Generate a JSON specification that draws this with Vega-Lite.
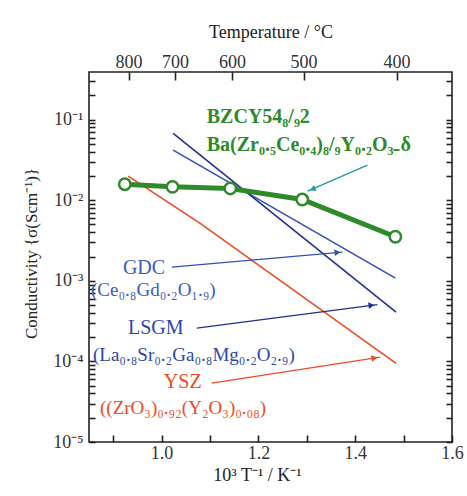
{
  "$schema": "https://vega.github.io/schema/vega-lite/v6.json",
  "width": 363,
  "height": 370,
  "autosize": "none",
  "padding": {"left": 89, "top": 72, "right": 15, "bottom": 54},
  "background": "white",
  "config": {
    "view": {"stroke": "#222", "strokeWidth": 1.6},
    "font": "Liberation Serif",
    "axis": {
      "grid": false,
      "domain": false,
      "labelFont": "Liberation Serif",
      "labelFontSize": 18,
      "labelColor": "#333",
      "titleFont": "Liberation Serif",
      "titleFontWeight": "normal",
      "titleFontSize": 18,
      "titleColor": "#222"
    }
  },
  "datasets": {
    "lines": [
      {"material": "GDC", "x": 1.0238, "y": 0.0419},
      {"material": "GDC", "x": 1.483, "y": 0.00108},
      {"material": "LSGM", "x": 1.0238, "y": 0.0674},
      {"material": "LSGM", "x": 1.4844, "y": 0.00041},
      {"material": "YSZ", "x": 0.931, "y": 0.0199},
      {"material": "YSZ", "x": 1.0789, "y": 0.0052},
      {"material": "YSZ", "x": 1.2438, "y": 0.00102},
      {"material": "YSZ", "x": 1.4844, "y": 0.0000944}
    ],
    "bzcy": [
      {"material": "BZCY", "x": 0.924, "y": 0.0158},
      {"material": "BZCY", "x": 1.0225, "y": 0.01466},
      {"material": "BZCY", "x": 1.142, "y": 0.014},
      {"material": "BZCY", "x": 1.2906, "y": 0.0102},
      {"material": "BZCY", "x": 1.483, "y": 0.00352}
    ],
    "arrows": [
      {"material": "GDC", "x": 1.0211, "y": 0.001479},
      {"material": "GDC", "x": 1.3737, "y": 0.00227},
      {"material": "LSGM", "x": 1.0727, "y": 0.000259},
      {"material": "LSGM", "x": 1.4459, "y": 0.000507},
      {"material": "YSZ", "x": 1.1036, "y": 0.0000538},
      {"material": "YSZ", "x": 1.452, "y": 0.000113},
      {"material": "BZCY", "x": 1.4253, "y": 0.02726},
      {"material": "BZCY", "x": 1.3016, "y": 0.01297}
    ],
    "heads": [
      {"material": "GDC", "x": 1.3634, "y": 0.00225},
      {"material": "LSGM", "x": 1.4335, "y": 0.000497},
      {"material": "YSZ", "x": 1.4397, "y": 0.00011},
      {"material": "BZCY", "x": 1.3119, "y": 0.01374}
    ],
    "labels": [
      {"material": "BZCY", "kind": "bzcy", "x": 1.0933, "y": 0.1074, "text": "BZCY54₈/₉2"},
      {"material": "BZCY", "kind": "bzcy", "x": 1.0933, "y": 0.0483, "text": "Ba(Zr₀.₅Ce₀.₄)₈/₉Y₀.₂O₃₋δ"},
      {"material": "GDC", "kind": "name", "x": 0.92, "y": 0.00144, "text": "GDC"},
      {"material": "GDC", "kind": "formula", "x": 0.8541, "y": 0.000767, "text": "(Ce₀.₈Gd₀.₂O₁.₉)"},
      {"material": "LSGM", "kind": "name", "x": 0.9304, "y": 0.000259, "text": "LSGM"},
      {"material": "LSGM", "kind": "formula", "x": 0.8582, "y": 0.00012, "text": "(La₀.₈Sr₀.₂Ga₀.₈Mg₀.₂O₂.₉)"},
      {"material": "YSZ", "kind": "name", "x": 1.0046, "y": 0.0000553, "text": "YSZ"},
      {"material": "YSZ", "kind": "formula", "x": 0.8727, "y": 0.0000264, "text": "((ZrO₃)₀.₉₂(Y₂O₃)₀.₀₈)"}
    ]
  },
  "resolve": {"axis": {"x": "independent", "y": "independent"}},
  "layer": [
    {
      "data": {"name": "lines"},
      "mark": {"type": "line", "strokeWidth": 1.6},
      "encoding": {
        "x": {
          "field": "x", "type": "quantitative",
          "scale": {"domain": [0.85, 1.6], "nice": false, "zero": false},
          "axis": {
            "orient": "bottom",
            "values": [0.9, 1.0, 1.1, 1.2, 1.3, 1.4, 1.5, 1.6],
            "labelExpr": "(round(datum.value*10) % 2 == 0) ? format(datum.value, '.1f') : ''",
            "labelOverlap": false,
            "labelFlush": false,
            "offset": -7,
            "tickSize": 7,
            "tickColor": "#222",
            "tickWidth": 1.6,
            "labelPadding": 2,
            "title": "10³ T⁻¹ / K⁻¹",
            "titlePadding": 4,
            "titleX": 168
          }
        },
        "y": {
          "field": "y", "type": "quantitative",
          "scale": {"type": "log", "domain": [0.00001, 0.39], "nice": false},
          "axis": {
            "orient": "left",
            "values": [0.00001, 0.00002, 0.00003, 0.00004, 0.00005, 0.00006, 0.00007, 0.00008, 0.00009,
                       0.0001, 0.0002, 0.0003, 0.0004, 0.0005, 0.0006, 0.0007, 0.0008, 0.0009,
                       0.001, 0.002, 0.003, 0.004, 0.005, 0.006, 0.007, 0.008, 0.009,
                       0.01, 0.02, 0.03, 0.04, 0.05, 0.06, 0.07, 0.08, 0.09, 0.1, 0.2, 0.3],
            "labelExpr": "abs(log(datum.value)/LN10 - round(log(datum.value)/LN10)) > 0.01 ? '' : datum.value < 2e-5 ? '10⁻⁵' : datum.value < 2e-4 ? '10⁻⁴' : datum.value < 2e-3 ? '10⁻³' : datum.value < 2e-2 ? '10⁻²' : '10⁻¹'",
            "labelOverlap": false,
            "offset": -6,
            "tickSize": 6,
            "tickColor": "#222",
            "tickWidth": 1.6,
            "labelPadding": 6,
            "title": "Conductivity {σ(Scm⁻¹)}",
            "titleFontSize": 17,
            "titleX": -55,
            "titleY": 181
          }
        },
        "stroke": {
          "field": "material", "type": "nominal",
          "scale": {"domain": ["BZCY", "GDC", "LSGM", "YSZ"], "range": ["#2f8a2a", "#3450b5", "#22318f", "#f04a22"]},
          "legend": null
        }
      }
    },
    {
      "data": {"name": "bzcy"},
      "mark": {"type": "line", "strokeWidth": 5, "color": "#2f8a2a"},
      "encoding": {
        "x": {
          "field": "x", "type": "quantitative",
          "axis": {
            "orient": "top",
            "values": [0.93183, 1.02756, 1.14528, 1.29341, 1.48555],
            "labelExpr": "format(1000/datum.value - 273.15, '.0f')",
            "labelOverlap": false,
            "labelFlush": false,
            "offset": -8,
            "tickSize": 8,
            "tickColor": "#222",
            "tickWidth": 1.6,
            "labelPadding": 1,
            "title": "Temperature / °C",
            "titlePadding": 12
          }
        },
        "y": {
          "field": "y", "type": "quantitative",
          "axis": {
            "orient": "right",
            "values": [0.00001, 0.00002, 0.00003, 0.00004, 0.00005, 0.00006, 0.00007, 0.00008, 0.00009,
                       0.0001, 0.0002, 0.0003, 0.0004, 0.0005, 0.0006, 0.0007, 0.0008, 0.0009,
                       0.001, 0.002, 0.003, 0.004, 0.005, 0.006, 0.007, 0.008, 0.009,
                       0.01, 0.02, 0.03, 0.04, 0.05, 0.06, 0.07, 0.08, 0.09, 0.1, 0.2, 0.3],
            "labelExpr": "''",
            "labelOverlap": false,
            "offset": -6,
            "tickSize": 6,
            "tickColor": "#222",
            "tickWidth": 1.6,
            "title": null
          }
        }
      }
    },
    {
      "data": {"name": "bzcy"},
      "mark": {"type": "point", "shape": "circle", "filled": true, "fill": "white", "stroke": "#2f8a2a", "strokeWidth": 2.5, "size": 130, "opacity": 1},
      "encoding": {
        "x": {"field": "x", "type": "quantitative", "axis": null},
        "y": {"field": "y", "type": "quantitative", "axis": null}
      }
    },
    {
      "data": {"name": "arrows"},
      "mark": {"type": "line", "strokeWidth": 1.3},
      "transform": [{"filter": "datum.material != 'BZCY'"}],
      "encoding": {
        "x": {"field": "x", "type": "quantitative", "axis": null},
        "y": {"field": "y", "type": "quantitative", "axis": null},
        "stroke": {"field": "material", "type": "nominal", "legend": null},
        "detail": {"field": "material"}
      }
    },
    {
      "data": {"name": "arrows"},
      "mark": {"type": "line", "strokeWidth": 1.3, "color": "#1f9a9a"},
      "transform": [{"filter": "datum.material == 'BZCY'"}],
      "encoding": {
        "x": {"field": "x", "type": "quantitative", "axis": null},
        "y": {"field": "y", "type": "quantitative", "axis": null}
      }
    },
    {
      "data": {"name": "heads"},
      "transform": [{"filter": "datum.material == 'GDC'"}],
      "mark": {"type": "point", "shape": "triangle-right", "filled": true, "opacity": 1, "size": 45, "angle": -5, "color": "#3450b5"},
      "encoding": {
        "x": {"field": "x", "type": "quantitative", "axis": null},
        "y": {"field": "y", "type": "quantitative", "axis": null}
      }
    },
    {
      "data": {"name": "heads"},
      "transform": [{"filter": "datum.material == 'LSGM'"}],
      "mark": {"type": "point", "shape": "triangle-right", "filled": true, "opacity": 1, "size": 45, "angle": -7, "color": "#22318f"},
      "encoding": {
        "x": {"field": "x", "type": "quantitative", "axis": null},
        "y": {"field": "y", "type": "quantitative", "axis": null}
      }
    },
    {
      "data": {"name": "heads"},
      "transform": [{"filter": "datum.material == 'YSZ'"}],
      "mark": {"type": "point", "shape": "triangle-right", "filled": true, "opacity": 1, "size": 45, "angle": -9, "color": "#f04a22"},
      "encoding": {
        "x": {"field": "x", "type": "quantitative", "axis": null},
        "y": {"field": "y", "type": "quantitative", "axis": null}
      }
    },
    {
      "data": {"name": "heads"},
      "transform": [{"filter": "datum.material == 'BZCY'"}],
      "mark": {"type": "point", "shape": "triangle-right", "filled": true, "opacity": 1, "size": 45, "angle": 157, "color": "#1f9a9a"},
      "encoding": {
        "x": {"field": "x", "type": "quantitative", "axis": null},
        "y": {"field": "y", "type": "quantitative", "axis": null}
      }
    },
    {
      "data": {"name": "labels"},
      "transform": [{"filter": "datum.kind == 'bzcy'"}],
      "mark": {"type": "text", "align": "left", "baseline": "middle", "font": "Liberation Serif", "fontSize": 20, "fontWeight": "bold", "color": "#2f8a2a"},
      "encoding": {
        "x": {"field": "x", "type": "quantitative", "axis": null},
        "y": {"field": "y", "type": "quantitative", "axis": null},
        "text": {"field": "text"}
      }
    },
    {
      "data": {"name": "labels"},
      "transform": [{"filter": "datum.kind == 'name'"}],
      "mark": {"type": "text", "align": "left", "baseline": "middle", "font": "Liberation Serif", "fontSize": 20},
      "encoding": {
        "x": {"field": "x", "type": "quantitative", "axis": null},
        "y": {"field": "y", "type": "quantitative", "axis": null},
        "text": {"field": "text"},
        "fill": {
          "field": "material", "type": "nominal",
          "scale": {"domain": ["BZCY", "GDC", "LSGM", "YSZ"], "range": ["#2f8a2a", "#3a5cbf", "#2e48aa", "#f04a22"]},
          "legend": null
        }
      }
    },
    {
      "data": {"name": "labels"},
      "transform": [{"filter": "datum.kind == 'formula'"}],
      "mark": {"type": "text", "align": "left", "baseline": "middle", "font": "Liberation Serif", "fontSize": 19},
      "encoding": {
        "x": {"field": "x", "type": "quantitative", "axis": null},
        "y": {"field": "y", "type": "quantitative", "axis": null},
        "text": {"field": "text"},
        "fill": {"field": "material", "type": "nominal", "legend": null}
      }
    }
  ]
}
